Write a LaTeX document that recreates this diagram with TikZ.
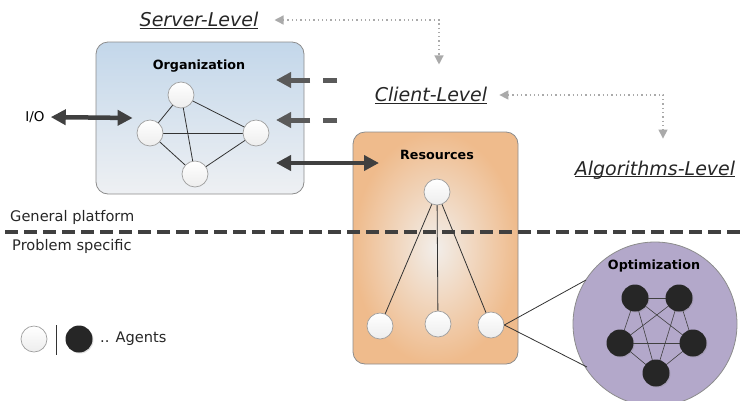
\documentclass[tikz,border=0pt]{standalone}
\usepackage{fontspec}
\setmainfont{DejaVu Sans}
\usetikzlibrary{arrows.meta,shadows}
\definecolor{orgtop}{HTML}{C3D7EA}
\definecolor{orgbot}{HTML}{EEF0F3}
\definecolor{resin}{HTML}{F2EEEA}
\definecolor{resout}{HTML}{EFBB8C}
\definecolor{optfill}{HTML}{B3A8CA}
\definecolor{darkarrow}{HTML}{404040}
\definecolor{dasharrow}{HTML}{5A5A5A}
\definecolor{dotgray}{HTML}{AAAAAA}
\definecolor{agentblack}{HTML}{262626}
\definecolor{boxborder}{HTML}{8C8C8C}
\begin{document}
\begin{tikzpicture}[x=1pt,y=-1pt,
  agent/.style={circle,draw=gray!75,line width=0.7pt,minimum size=26pt,inner sep=0pt,top color=white,bottom color=gray!14},
  bagent/.style={circle,fill=agentblack,minimum size=27pt,inner sep=0pt,drop shadow={shadow xshift=1pt,shadow yshift=-1pt,opacity=0.25}},
  edge/.style={draw=black!80,line width=0.8pt},
  bedge/.style={draw=black!75,line width=0.6pt},
  bigarrow/.style={draw=darkarrow,line width=4.5pt,{Triangle[length=15pt,width=15pt]}-{Triangle[length=15pt,width=15pt]}},
  dasharr/.style={draw=dasharrow,line width=5pt,dash pattern=on 14pt off 13pt on 60pt,-{Triangle[length=15pt,width=15pt]}},
  dotarrow/.style={draw=dotgray,line width=1.3pt,dash pattern=on 1.3pt off 3pt,{Triangle[length=9pt,width=9pt]}-{Triangle[length=9pt,width=9pt]}},
  levellabel/.style={font=\fontsize{19}{21}\selectfont\itshape,text=black!85,inner sep=0pt},
  title/.style={font=\fontsize{12.7}{14}\selectfont\bfseries,inner sep=0pt},
  plain/.style={font=\fontsize{14.6}{16}\selectfont,text=black!85,inner sep=0pt}
]
\useasboundingbox (0,0) rectangle (741,400);
\begin{scope}
\clip (0,0) rectangle (741,400);

% Organization box
\node[draw=boxborder,line width=0.8pt,rounded corners=12pt,top color=orgtop,bottom color=orgbot,
      minimum width=208pt,minimum height=152pt,inner sep=0pt] (org) at (200,118) {};
\node[title] (orgtitle) at (199,66) {Organization};
\coordinate (o1) at (181,95);
\coordinate (o2) at (150,133);
\coordinate (o3) at (256,133);
\coordinate (o4) at (195,174);

% Resources box
\node[draw=boxborder,line width=0.8pt,rounded corners=12pt,inner color=resin,outer color=resout,
      minimum width=165pt,minimum height=232pt,inner sep=0pt] (res) at (435.5,248) {};
\node[title] (restitle) at (437,155) {Resources};

% Optimization circle
\node[circle,draw=boxborder,line width=0.8pt,fill=optfill,minimum size=164pt,inner sep=0pt] (opt) at (655,324) {};
\node[title] (opttitle) at (654,266) {Optimization};

% separating line
\coordinate (sepL) at (5,232);
\coordinate (sepR) at (741,232);

% resources agents
\coordinate (rt) at (437,192);
\coordinate (r1) at (380,326);
\coordinate (r2) at (438,324);
\coordinate (r3) at (491,325);
\draw[edge] (rt) -- (r1);
\draw[edge] (rt) -- (r2);
\draw[edge] (rt) -- (r3);
\draw[draw=darkarrow,line width=3.5pt,dash pattern=on 12.5pt off 6.5pt] (sepL) -- (sepR);
\node[agent] (nrt) at (rt) {};
\node[agent] (nr1) at (r1) {};
\node[agent] (nr2) at (r2) {};
\node[agent] (nr3) at (r3) {};

% zoom lines
\coordinate (z1) at (586,280);
\coordinate (z2) at (587,367);
\draw[edge] (nr3.east) -- (z1);
\draw[edge] (nr3.east) -- (z2);

% organization edges
\draw[edge] (o1) -- (o2);
\draw[edge] (o1) -- (o3);
\draw[edge] (o1) -- (o4);
\draw[edge] (o2) -- (o3);
\draw[edge] (o2) -- (o4);
\draw[edge] (o3) -- (o4);
\node[agent] (no1) at (o1) {};
\node[agent] (no2) at (o2) {};
\node[agent] (no3) at (o3) {};
\node[agent] (no4) at (o4) {};

% black agents
\coordinate (b1) at (635,298);
\coordinate (b2) at (679,298);
\coordinate (b3) at (620,343);
\coordinate (b4) at (693,343);
\coordinate (b5) at (656,373);
\foreach \a/\b in {b1/b2,b1/b3,b1/b4,b1/b5,b2/b3,b2/b4,b2/b5,b3/b4,b3/b5,b4/b5}
  \draw[bedge] (\a) -- (\b);
\foreach \a in {b1,b2,b3,b4,b5}
  \node[bagent] (n\a) at (\a) {};

% arrows
\node[font=\fontsize{13.5}{15}\selectfont,inner sep=0pt] (io) at (35,117) {I/O};
\coordinate (ioin) at ([xshift=37pt]org.west);
\draw[bigarrow,shorten <=6pt] (io.east) -- (ioin);
\coordinate (orgout) at (276,163);
\coordinate (resin) at (379,163);
\draw[bigarrow] (orgout) -- (resin);
\coordinate (d1s) at (337,80);
\coordinate (d1e) at (276,80);
\coordinate (d2s) at (337,120);
\coordinate (d2e) at (276,120);
\draw[dasharr] (d1s) -- (d1e);
\draw[dasharr] (d2s) -- (d2e);

% level labels
\node[levellabel] (srv) at (199,20) {\underline{Server-Level}};
\node[levellabel] (cli) at (431,95) {\underline{Client-Level}};
\node[levellabel] (alg) at (655,169) {\underline{\raisebox{0pt}[\height][0pt]{Algorithms-Level}}};
\draw[dotarrow] ([xshift=16pt]srv.east) -| ([xshift=8pt,yshift=22pt]cli.north);
\draw[dotarrow] ([xshift=12pt]cli.east) -| ([xshift=8pt,yshift=22pt]alg.north);

% general / problem labels
\node[plain,anchor=west] (gen) at (10,217) {General platform};
\node[plain,anchor=west] (prob) at (12,246) {Problem specific};

% legend
\node[agent] (lw) at (34,339) {};
\coordinate (lt) at (56,325);
\coordinate (lb) at (56,355);
\draw[draw=black!80,line width=1pt] (lt) -- (lb);
\node[bagent] (lbk) at (79,339) {};
\node[plain,anchor=west] (ag) at (100,339) {.. Agents};
\end{scope}
\end{tikzpicture}
\end{document}
